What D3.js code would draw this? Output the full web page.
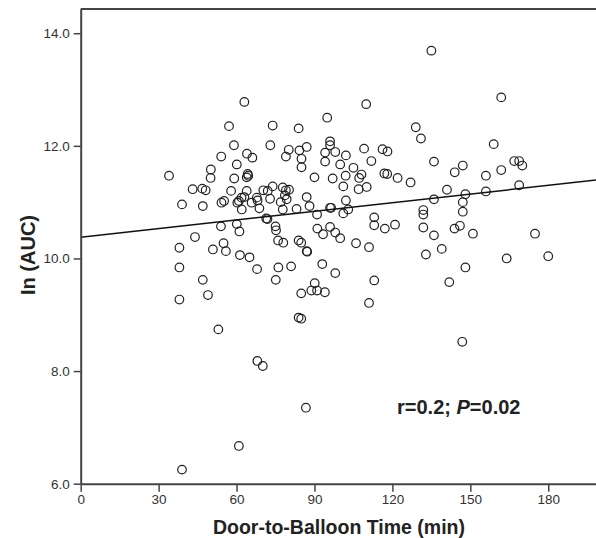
<!DOCTYPE html>
<html>
<head>
<meta charset="utf-8">
<script src="https://cdn.jsdelivr.net/npm/d3@7"></script>
<style>
  html, body { margin: 0; padding: 0; background: #fff; }
  svg { display: block; font-family: "Liberation Sans", Arial, Helvetica, sans-serif; }
</style>
</head>
<body>
<svg id="chart" width="596" height="538"></svg>
<script>
// Door-to-balloon time (min)
const doorToBalloon = [
  135.0,161.9,63.0,109.9,94.9,129.0,57.1,73.9,83.9,131.0,
  159.0,96.0,96.0,73.0,59.0,54.1,64.0,66.1,60.1,80.1,
  79.0,84.2,87.0,85.0,85.0,94.1,98.0,102.1,94.1,99.9,
  109.1,116.2,118.1,111.9,105.0,136.0,147.1,144.0,166.9,168.8,
  170.0,161.9,156.0,168.8,127.0,122.0,141.0,136.0,148.1,147.1,
  156.0,147.1,131.9,131.9,131.9,143.9,146.0,136.0,151.0,174.9,
  132.9,139.0,148.1,141.9,164.0,180.0,146.9,
  90.0,97.0,102.0,107.2,108.1,116.9,118.0,101.1,107.0,110.1,
  87.0,102.1,83.1,88.1,96.0,96.4,103.0,101.1,91.0,113.0,
  113.0,117.1,121.0,91.1,96.0,93.3,98.0,99.9,106.0,111.0,
  76.0,78.0,83.9,84.9,87.0,87.2,76.1,81.0,75.1,93.0,
  98.0,90.1,84.9,88.8,91.0,94.0,113.0,111.0,83.9,84.9,
  86.7,68.0,70.1,
  34.0,43.1,46.8,48.1,50.1,50.0,59.1,64.3,64.5,63.9,
  57.9,63.9,39.0,47.0,54.2,55.2,60.3,60.9,61.9,63.0,
  65.8,67.8,68.1,70.3,72.0,73.9,72.9,77.8,79.0,80.2,
  78.6,79.3,77.0,77.8,62.0,68.8,71.4,71.9,54.0,60.1,
  61.1,75.0,75.2,44.0,38.0,50.9,55.0,55.9,61.3,65.0,
  67.9,38.0,47.0,49.0,38.0,53.0,60.9,39.0
];
// ln(AUC)
const lnAUC = [
  13.69,12.86,12.78,12.74,12.50,12.33,12.35,12.36,12.31,12.13,
  12.03,12.08,12.01,12.01,12.01,11.81,11.86,11.79,11.67,11.93,
  11.81,11.92,11.98,11.77,11.62,11.88,11.89,11.83,11.72,11.67,
  11.95,11.94,11.90,11.73,11.61,11.72,11.65,11.53,11.73,11.73,
  11.65,11.57,11.47,11.30,11.35,11.43,11.22,11.05,11.14,11.00,
  11.19,10.83,10.86,10.78,10.55,10.53,10.58,10.41,10.44,10.44,
  10.07,10.17,9.84,9.58,10.00,10.04,8.52,
  11.44,11.42,11.47,11.43,11.49,11.51,11.50,11.28,11.23,11.27,
  11.09,11.03,10.88,10.93,10.90,10.90,10.87,10.80,10.78,10.73,
  10.59,10.53,10.60,10.53,10.56,10.43,10.46,10.36,10.27,10.20,
  10.32,10.28,10.32,10.28,10.13,10.12,9.84,9.86,9.62,9.90,
  9.74,9.56,9.38,9.43,9.43,9.40,9.61,9.21,8.95,8.93,
  7.35,8.18,8.09,
  11.47,11.23,11.24,11.21,11.58,11.43,11.42,11.50,11.47,11.44,
  11.20,11.20,10.96,10.93,10.99,11.02,10.99,11.02,11.08,11.09,
  10.99,11.08,11.03,11.21,11.20,11.28,11.06,11.26,11.21,11.22,
  11.12,11.05,11.00,10.87,10.87,10.89,10.71,10.70,10.57,10.61,
  10.48,10.57,10.50,10.38,10.19,10.16,10.27,10.13,10.06,10.02,
  9.81,9.84,9.62,9.35,9.27,8.74,6.67,6.25
];
// fitted regression line end points
const fitX = [0, 200];
const fitY = [10.375, 11.40];

const xTicks = [0, 30, 60, 90, 120, 150, 180];
const yTicks = [6, 8, 10, 12, 14];
const xDomain = [0, 200];
const yDomain = [6, 14.43];
const xTitle = "Door-to-Balloon Time (min)";
const yTitle = "In (AUC)";

const svg = d3.select("#chart");
const x = d3.scaleLinear().domain(xDomain).range([80.7, 600.2]);
const y = d3.scaleLinear().domain(yDomain).range([483.7, 9]);

const axisColor = "#444";

// top border
svg.append("line")
  .attr("x1", x(0)).attr("x2", x(xDomain[1]))
  .attr("y1", y(yDomain[1])).attr("y2", y(yDomain[1]))
  .attr("stroke", axisColor).attr("stroke-width", 1.8);

// points
svg.append("g").selectAll("circle")
  .data(doorToBalloon.map((d, i) => [d, lnAUC[i]]))
  .join("circle")
  .attr("cx", d => x(d[0]))
  .attr("cy", d => y(d[1]))
  .attr("r", 4.3)
  .attr("fill", "none")
  .attr("stroke", "#222")
  .attr("stroke-width", 1.2);

// regression line
svg.append("line")
  .attr("x1", x(fitX[0])).attr("y1", y(fitY[0]))
  .attr("x2", x(fitX[1])).attr("y2", y(fitY[1]))
  .attr("stroke", "#111").attr("stroke-width", 1.5);

// axes
const gx = svg.append("g")
  .attr("transform", `translate(0,${y(yDomain[0])})`)
  .call(d3.axisBottom(x).tickValues(xTicks).tickSize(8).tickSizeOuter(0).tickPadding(3).tickFormat(d3.format("d")));
const gy = svg.append("g")
  .attr("transform", `translate(${x(0)},0)`)
  .call(d3.axisLeft(y).tickValues(yTicks).tickSize(7).tickSizeOuter(0).tickPadding(4).tickFormat(d3.format(".1f")));

[gx, gy].forEach(g => {
  g.select(".domain").attr("stroke", axisColor).attr("stroke-width", 2);
  g.selectAll(".tick line").attr("stroke", axisColor).attr("stroke-width", 1.5);
  g.selectAll(".tick text")
    .attr("fill", "#333")
    .style("font-size", "13.5px")
    .style("font-family", "'Liberation Sans', Arial, sans-serif");
});

// axis titles
svg.append("text")
  .attr("x", 339).attr("y", 534)
  .attr("text-anchor", "middle")
  .attr("font-weight", "bold")
  .attr("font-size", 19.5)
  .attr("fill", "#222")
  .text(xTitle);

svg.append("text")
  .attr("transform", "translate(35,255) rotate(-90)")
  .attr("text-anchor", "middle")
  .attr("font-weight", "bold")
  .attr("font-size", 20)
  .attr("fill", "#222")
  .text(yTitle);

// annotation
const ann = svg.append("text")
  .attr("x", 397).attr("y", 414)
  .attr("font-weight", "bold")
  .attr("font-size", 20)
  .attr("fill", "#222");
ann.append("tspan").text("r=0.2; ");
ann.append("tspan").attr("font-style", "italic").text("P");
ann.append("tspan").text("=0.02");
</script>
</body>
</html>
